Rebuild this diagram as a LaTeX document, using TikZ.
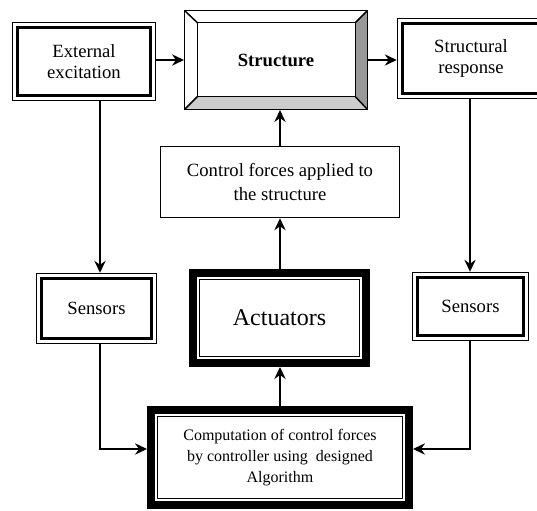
\documentclass[tikz,border=0pt]{standalone}
\usepackage{fontspec}
\setmainfont{Liberation Serif}
\usetikzlibrary{arrows.meta,positioning}

\begin{document}
\begin{tikzpicture}[
    x=0.75pt, y=-0.75pt,
    >={Stealth[length=9pt,width=8.5pt,inset=3pt]},
    line width=1.1pt,
    plainbox/.style={rectangle,draw,line width=1.1pt,inner sep=0pt,
                align=center,font=\fontsize{14}{17.3}\selectfont},
    dblbox/.style={rectangle,draw,line width=1.1pt,inner sep=0pt,
                align=center,font=\fontsize{14}{16.3}\selectfont,
                path picture={\draw[line width=2.4pt]
                  ([shift={(3.6pt,-3.6pt)}]path picture bounding box.north west) rectangle
                  ([shift={(-3.6pt,3.6pt)}]path picture bounding box.south east);}},
    heavybox/.style={rectangle,draw,line width=6pt,inner sep=0pt,align=center,
                path picture={\draw[line width=1.2pt]
                  ([shift={(5pt,-5pt)}]path picture bounding box.north west) rectangle
                  ([shift={(-5pt,5pt)}]path picture bounding box.south east);}},
    bevelbox/.style={rectangle,draw,line width=1.1pt,inner sep=0pt,
                font=\bfseries\fontsize{14}{17}\selectfont,
                path picture={
                  \fill[black!40] (path picture bounding box.north east)
                    -- ([shift={(-9pt,-9pt)}]path picture bounding box.north east)
                    -- ([shift={(-9pt,9.5pt)}]path picture bounding box.south east)
                    -- (path picture bounding box.south east) -- cycle;
                  \fill[black!20] (path picture bounding box.south west)
                    -- ([shift={(9.5pt,9.5pt)}]path picture bounding box.south west)
                    -- ([shift={(-9pt,9.5pt)}]path picture bounding box.south east)
                    -- (path picture bounding box.south east) -- cycle;
                  \draw[line width=1.1pt]
                    ([shift={(9.5pt,-9pt)}]path picture bounding box.north west) rectangle
                    ([shift={(-9pt,9.5pt)}]path picture bounding box.south east);
                  \draw[line width=1.1pt]
                    (path picture bounding box.north west) -- ++(9.5pt,-9pt)
                    (path picture bounding box.north east) -- ++(-9pt,-9pt)
                    (path picture bounding box.south west) -- ++(9.5pt,9.5pt)
                    (path picture bounding box.south east) -- ++(-9pt,9.5pt);}}
  ]
    \useasboundingbox (0,0) rectangle (537,511);
    \clip (0,0) rectangle (537,511);

    % Top row: excitation, structure, response
    \node[dblbox,minimum width=107.3pt,minimum height=58.5pt] (ext) at (84,61.5)
      {External\\excitation};
    \node[bevelbox,minimum width=136.9pt,minimum height=73.9pt] (struct) at (276,60)
      {Structure};
    \node[dblbox,minimum width=110.3pt,minimum height=60pt] (resp) at (471,58.5)
      {Structural\\response};
    % Middle column
    \node[plainbox,minimum width=179.3pt,minimum height=53.3pt] (ctrl) at (280,182)
      {Control forces applied to\\the structure};
    \node[heavybox,minimum width=129.8pt,minimum height=67.5pt,
          font=\fontsize{18}{21}\selectfont] (act) at (279.5,318) {Actuators};
    % Sensors
    \node[dblbox,minimum width=90pt,minimum height=52.5pt] (sensL) at (96.5,308.5)
      {Sensors};
    \node[dblbox,minimum width=87pt,minimum height=51pt] (sensR) at (470.5,306.5)
      {Sensors};
    % Controller
    \node[heavybox,minimum width=193.5pt,minimum height=71.3pt,
          font=\fontsize{12}{15.7}\selectfont] (comp) at (280,457.5)
      {Computation of control forces\\by controller using~ designed\\Algorithm};

    \coordinate (tapL) at (100,449);
    \coordinate (tapR) at (470,449);

    % Arrows
    \draw[->] (struct.west -| ext.east) -- (struct.west);
    \draw[->] (struct.east) -- (struct.east -| resp.west);
    \draw[->] (ext.south -| tapL) -- (sensL.north -| tapL);
    \draw[->] (resp.south -| tapR) -- (sensR.north -| tapR);
    \draw[->] (sensL.south -| tapL) |- (comp.west |- tapL);
    \draw[->] (sensR.south -| tapR) |- (comp.east |- tapR);
    \draw[->] (comp.north) -- (comp.north |- act.south);
    \draw[->] (act.north -| ctrl.south) -- (ctrl.south);
    \draw[->] (ctrl.north) -- (ctrl.north |- struct.south);
  \end{tikzpicture}
\end{document}
